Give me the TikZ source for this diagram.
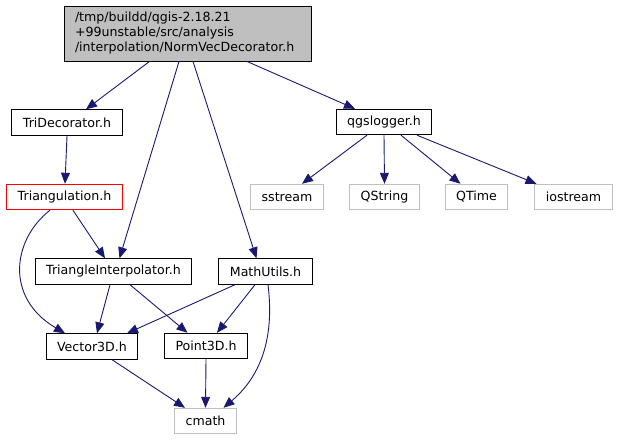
\documentclass[tikz,border=0pt]{standalone}
\usepackage{fontspec}
\setmainfont{DejaVu Sans}
\usetikzlibrary{arrows.meta}
\definecolor{edgeblue}{HTML}{191970}
\definecolor{boxgray}{HTML}{BFBFBF}
\definecolor{sysline}{HTML}{BFBFBF}
\definecolor{badred}{HTML}{FF0000}

\begin{document}
\begin{tikzpicture}[x=1pt, y=-1pt,
      hdr/.style={draw=black, fill=boxgray, line width=0.9pt, inner xsep=11pt, inner ysep=0pt, align=left, text width=225pt, minimum height=55pt, font=\fontsize{12.6}{15}\selectfont},
      inc/.style={draw=black, line width=0.9pt, inner xsep=11pt, inner ysep=0pt, minimum height=25.5pt, font=\fontsize{12.6}{15}\selectfont},
      sys/.style={inc, draw=sysline},
      bad/.style={inc, draw=badred},
      edge/.style={-{Triangle[length=11pt,width=9pt]}, line width=0.9pt, color=edgeblue}]
    \useasboundingbox (0,0) rectangle (619,440);
    \node[hdr] (norm) at (187.5,33.5) {/tmp/buildd/qgis-2.18.21\\+99unstable/src/analysis\\/interpolation/NormVecDecorator.h};
    \node[inc] (tridec) at (67,122.5) {TriDecorator.h};
    \node[bad] (triang) at (64.5,197) {Triangulation.h};
    \node[inc] (logger) at (384,122) {qgslogger.h};
    \node[sys] (sstream) at (287,197) {sstream};
    \node[sys] (qstring) at (384.5,197) {QString};
    \node[sys] (qtime) at (476.5,197) {QTime};
    \node[sys] (iostream) at (573.5,197) {iostream};
    \node[inc] (triint) at (113.5,271.5) {TriangleInterpolator.h};
    \node[inc] (mathutils) at (265.5,271.5) {MathUtils.h};
    \node[inc] (vector) at (92,346.5) {Vector3D.h};
    \node[inc] (point) at (206,346) {Point3D.h};
    \node[sys] (cmath) at (205.5,421) {cmath};
    % from the header
    \draw[edge] ([xshift=-38pt]norm.south) -- ([xshift=19pt]tridec.north);
    \draw[edge] ([xshift=-8.5pt]norm.south) -- ([xshift=6pt]triint.north);
    \draw[edge] ([xshift=5.5pt]norm.south) -- ([xshift=-9pt]mathutils.north);
    \draw[edge] ([xshift=59.5pt]norm.south) -- ([xshift=-29pt]logger.north);
    % triangulation side
    \draw[edge] ([xshift=0pt]tridec.south) -- ([xshift=0.5pt]triang.north);
    \draw[edge] ([xshift=8.5pt]triang.south) -- ([xshift=-8.5pt]triint.north);
    \draw[edge] ([xshift=-14.5pt]triang.south) .. controls (12,240) and (5,298) .. ([xshift=-27pt]vector.north);
    \draw[edge] ([xshift=-3.5pt]triint.south) -- ([xshift=5pt]vector.north);
    \draw[edge] ([xshift=16.5pt]triint.south) -- ([xshift=-18.5pt]point.north);
    \draw[edge] ([xshift=-30.5pt]mathutils.south) -- ([xshift=35pt]vector.north);
    \draw[edge] ([xshift=-10.5pt]mathutils.south) -- ([xshift=11pt]point.north);
    \draw[edge] ([xshift=2.5pt]mathutils.south) .. controls (273,325) and (268,370) .. ([xshift=18pt]cmath.north);
    \draw[edge] ([xshift=20pt]vector.south) -- ([xshift=-20.5pt]cmath.north);
    \draw[edge] (point.south) -- (cmath.north);
    % logger side
    \draw[edge] ([xshift=-17pt]logger.south) -- ([xshift=15pt]sstream.north);
    \draw[edge] (logger.south) -- (qstring.north);
    \draw[edge] ([xshift=17pt]logger.south) -- ([xshift=-16pt]qtime.north);
    \draw[edge] ([xshift=33pt]logger.south) -- ([xshift=-37pt]iostream.north);
  \end{tikzpicture}
\end{document}
